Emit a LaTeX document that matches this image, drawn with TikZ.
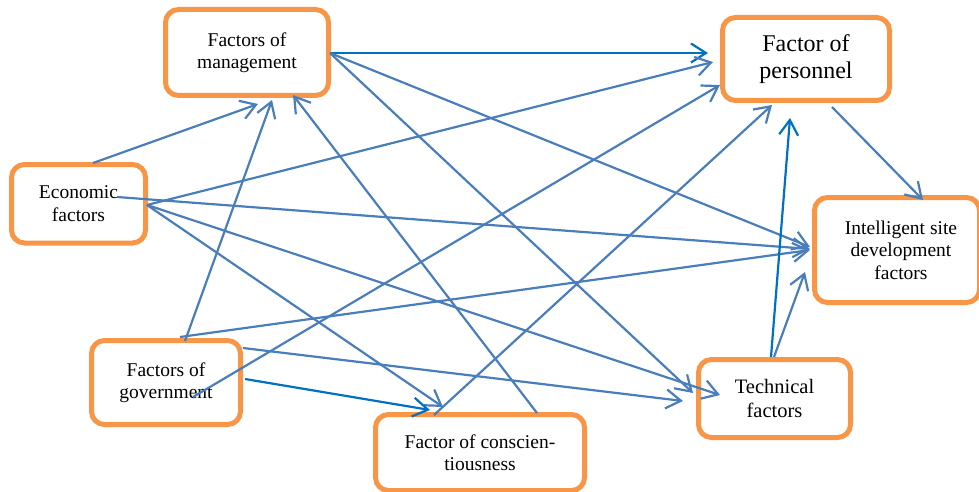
\documentclass[tikz,border=0pt]{standalone}
\usepackage{fontspec}
\setmainfont{Liberation Serif}
\usetikzlibrary{arrows.meta}
\definecolor{boxorange}{HTML}{F79646}
\definecolor{lineblue}{HTML}{4A7EBB}
\definecolor{darkblue}{HTML}{0070C0}
\begin{document}
\begin{tikzpicture}[x=1pt,y=-1pt,
  factor/.style={draw=boxorange, line width=5pt, rounded corners=13pt,
    inner sep=0pt, align=center, font=\fontsize{19.5}{22.5}\selectfont},
  link/.style={draw=lineblue, line width=2.2pt,
    -{Straight Barb[length=15pt,width=19pt]}},
  strong/.style={link, draw=darkblue}]
\useasboundingbox (0,0) rectangle (979,492);

% boxes
\node[factor, minimum width=163pt, minimum height=86pt] (M) at (247,52.5) {Factors of\\management};
\node[factor, minimum width=134pt, minimum height=78.5pt] (E) at (78.5,203.75) {Economic\\factors};
\node[factor, minimum width=167pt, minimum height=83pt, font=\fontsize{24}{27}\selectfont] (P) at (806,59) {Factor of\\personnel};
\node[factor, minimum width=165pt, minimum height=105pt] (I) at (897,250) {\hspace*{8pt}Intelligent site\\\hspace*{8pt}development\\\hspace*{8pt}factors};
\node[factor, minimum width=149pt, minimum height=84pt] (G) at (166,382.5) {Factors of\\government};
\node[factor, minimum width=209pt, minimum height=76pt] (C) at (480,452.5) {Factor of conscien-\\tiousness};
\node[factor, minimum width=152pt, minimum height=78pt, font=\fontsize{20.5}{23.5}\selectfont] (T) at (774.5,398.5) {Technical\\factors};

% connectors
\draw[strong] ([shift={(83,0.5)}]M.center) -- ([shift={(-98,-6)}]P.center);
\draw[link] ([shift={(83,0.5)}]M.center) -- ([shift={(-87,-3)}]I.center);
\draw[link] ([shift={(83,0.5)}]M.center) -- ([shift={(-81.5,-5.5)}]T.center);

\draw[link] ([shift={(14.5,-40.75)}]E.center) -- ([shift={(11,51.5)}]M.center);
\draw[link] ([shift={(19,-41.5)}]G.center) -- ([shift={(25,47.5)}]M.center);
\draw[link] ([shift={(57,-39.5)}]C.center) -- ([shift={(46,42.5)}]M.center);

\draw[link] ([shift={(68.5,1.25)}]E.center) -- ([shift={(-93,3)}]P.center);
\draw[link] ([shift={(38.5,-6.75)}]E.center) -- ([shift={(-87,-1)}]I.center);
\draw[link] ([shift={(68.5,1.25)}]E.center) -- ([shift={(-54.5,-3.5)}]T.center);
\draw[link] ([shift={(68.5,1.25)}]E.center) -- ([shift={(-37,-45.5)}]C.center);

\draw[link] ([shift={(14,-45.5)}]G.center) -- ([shift={(-87,0)}]I.center);
\draw[link] ([shift={(27,14.5)}]G.center) -- ([shift={(-86,26)}]P.center);
\draw[strong] ([shift={(79,-3.5)}]G.center) -- ([shift={(-50,-42.5)}]C.center);
\draw[link] ([shift={(77,-34.5)}]G.center) -- ([shift={(-91.5,2.5)}]T.center);

\draw[link] ([shift={(-46,-37.5)}]C.center) -- ([shift={(-34,46)}]P.center);
\draw[strong] ([shift={(-3.5,-41.5)}]T.center) -- ([shift={(-16,59)}]P.center);
\draw[link] ([shift={(-0.5,-41.5)}]T.center) -- ([shift={(-92,22)}]I.center);
\draw[link] ([shift={(26,48)}]P.center) -- ([shift={(26,-50)}]I.center);
\end{tikzpicture}
\end{document}
